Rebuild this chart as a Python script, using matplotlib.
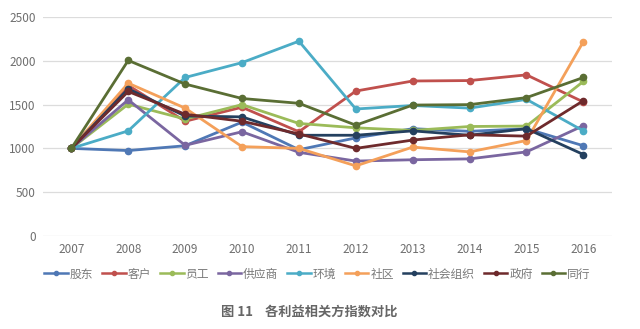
import matplotlib
matplotlib.use("Agg")
import matplotlib.pyplot as plt
from matplotlib.lines import Line2D

plt.rcParams['font.family'] = ['Noto Sans CJK SC', 'DejaVu Sans']

years = ['2007', '2008', '2009', '2010', '2011', '2012', '2013', '2014', '2015', '2016']

shareholder = [1000, 975, 1030, 1300, 985, 1120, 1225, 1195, 1225, 1030]
customer = [1000, 1720, 1310, 1470, 1190, 1655, 1770, 1775, 1840, 1530]
employee = [1000, 1505, 1335, 1500, 1285, 1235, 1205, 1250, 1255, 1765]
supplier = [1000, 1555, 1035, 1190, 955, 855, 870, 880, 960, 1260]
environment = [1000, 1200, 1810, 1980, 2225, 1450, 1490, 1460, 1560, 1200]
community = [1000, 1745, 1460, 1020, 1000, 800, 1015, 960, 1090, 2220]
social_org = [1000, 1680, 1370, 1360, 1150, 1150, 1200, 1150, 1225, 930]
government = [1000, 1650, 1390, 1310, 1165, 1000, 1095, 1155, 1140, 1545]
peers = [1000, 2005, 1735, 1570, 1515, 1265, 1495, 1500, 1580, 1810]

names = ['股东', '客户', '员工', '供应商', '环境', '社区', '社会组织', '政府', '同行']
series = [shareholder, customer, employee, supplier, environment,
          community, social_org, government, peers]
colors = ['#4f78b5', '#c0504d', '#9bbb59', '#7a66a0', '#4bacc6',
          '#f4a05a', '#24405f', '#6e2a2c', '#5a6e34']

fig = plt.figure(figsize=(6.4, 3.29), dpi=100)
ax = fig.add_axes([0.067, 0.283, 0.889, 0.665])

x = list(range(len(years)))
for vals, c, n in zip(series, colors, names):
    ax.plot(x, vals, color=c, lw=2.0, marker='o', ms=4.5, label=n,
            solid_joinstyle='round', zorder=3)

ax.set_xlim(-0.5, len(years) - 0.5)
ax.set_ylim(0, 2500)
ax.set_yticks(range(0, 2501, 500))
ax.set_xticks(x)
ax.set_xticklabels(years)
ax.grid(axis='y', color='#dcdcdc', lw=0.9, zorder=0)
ax.set_axisbelow(True)
for s in ax.spines.values():
    s.set_visible(False)
ax.tick_params(axis='both', length=0, labelsize=8.5, colors='#6f6f6f', pad=5)

handles = [Line2D([0], [0], color=c, lw=1.8, marker='o', ms=3.0) for c in colors]
fig.legend(handles, names, loc='center', bbox_to_anchor=(0.496, 0.167), ncol=9,
           frameon=False, fontsize=8.5, handlelength=2.0, handletextpad=0.15,
           columnspacing=0.75, labelcolor='#7a7a7a')

fig.text(0.483, 0.052, '图 11    各利益相关方指数对比', ha='center', va='center',
         fontsize=9.5, color='#666666', fontweight='bold')

fig.savefig('out.png', dpi=100, facecolor='white')
